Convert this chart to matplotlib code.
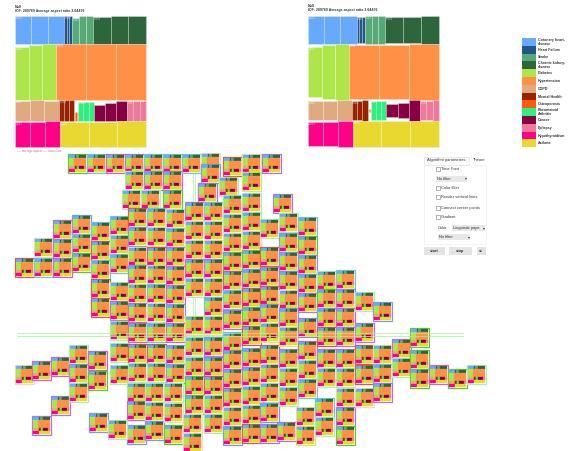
import matplotlib
matplotlib.use("Agg")
import matplotlib.pyplot as plt
from matplotlib.patches import Rectangle
from matplotlib.collections import PolyCollection

plt.rcParams['font.family'] = ['Liberation Sans', 'DejaVu Sans']

diseases = ["Coronary heart-\ndisease", "Heart Failure", "Stroke", "Chronic kidney-\ndisease", "Diabetes",
            "Hypertension", "COPD", "Mental Health", "Osteoporosis", "Rheumatoid\nArthritis", "Cancer",
            "Epilepsy", "Hypothyroidism", "Asthma"]
colors = ["#66aaff", "#225588", "#55aa77", "#2d663c", "#aee64a", "#ff9045", "#e0aa80",
          "#992200", "#ff5a10", "#2cf080", "#880044", "#f07898", "#ff0088", "#e8d830"]

row_values = [28, 56, 21, 26]
row_members = [[0, 1, 2, 3], [4, 5], [6, 7, 8, 9, 10, 11], [12, 13]]

left_values = [49, 8, 21, 53, 41, 90, 44, 15, 4, 16, 33, 19, 45, 86]
right_values = [49, 8, 21, 54, 41, 91, 44, 16, 3, 16, 34, 19, 45, 87]
shown_labels = ["0.333", "0.067", "0.167", "0.374", "0.229", "0.501", "0.267", "0.088", "", "0.082", "", "0.082", "0.257", "0.209"]

# share of the row height filled by the three cells of each group
left_fill = [(1, 1, 1), (1, 1, 1), (.93, 1, 1), (.95, 1, 1), (.95, .99, 1), (1, 1, 1), (.97, 1, .97),
             (1, 1, 1), (.45, .45, .45), (.92, .92, .92), (.78, .85, .95), (.95, .95, .95), (.96, .96, 1), (.97, .98, 1)]
right_fill = [(.98, .98, .98), (.9, .92, .94), (.98, 1, 1), (.93, .96, 1), (.88, .98, 1), (.98, .98, 1), (.9, .95, .98),
              (.88, .92, .96), (.1, .1, .1), (.95, .95, .95), (.6, .75, .98), (.92, .92, 1), (.9, .94, 1), (.97, 1, 1)]

tile_cols = [
    (15, [258], "r"), (34, [238, 258], "tc"), (53, [220, 239, 258], "kpk"), (72, [215, 234, 253], "bcg"),
    (91, [222, 241, 260, 279, 298], "crcrr"), (110, [216, 235, 254, 282, 301, 321, 343, 365], "clclklll"),
    (68, [154], "g"), (87, [154], "c"), (106, [154], "k"), (125, [154, 171], "pl"), (144, [154, 171], "cb"),
    (163, [154, 171], "ck"), (182, [154], "c"), (201, [153, 164], "tb"), (198, [183], "p"), (223, [157], "r"),
    (219, [177], "l"), (122, [190], "l"), (141, [190], "l"), (163, [190], "g"),
    (128, [208, 227, 247, 265, 284, 303, 323, 344, 363], "rbtbykkrl"), (127, [383, 401, 425], "lkb"),
    (147, [208, 227, 247, 265, 284, 303, 323, 344, 363], "ctrtctcrl"), (145, [383, 402, 421], "llb"),
    (166, [209, 228, 247, 266, 285, 304, 323, 345, 364], "lckkkbkbb"), (164, [383, 403, 425], "ltg"),
    (185, [202, 221, 240, 259, 278, 316, 337, 357, 376, 395], "pttklyllgg"), (183, [414, 433], "tt"),
    (204, [202, 221, 240, 259, 278, 297, 316, 337, 357, 376, 395, 414], "cttptcybprll"),
    (223, [195, 214, 233, 252, 271, 290, 310, 332, 350, 369, 388, 407, 426], "lltgrckckkrtb"),
    (242, [154, 172, 193, 212, 231, 250, 269, 288, 307, 326, 348, 367, 386, 405, 424], "tylltgbrgrbkltr"),
    (262, [154], "p"), (273, [194], "p"), (260, [219, 247, 267, 286, 304, 323, 345, 364, 383, 403, 424], "lrkrbyrtlbp"),
    (279, [213, 233, 252, 271, 290, 308, 327, 349, 368, 387], "lbbptbypll"), (277, [422], "p"),
    (298, [217, 236, 255, 274, 293, 318, 341, 360, 379], "cgbbppklc"), (296, [407, 426], "ty"),
    (317, [271, 289, 308, 327, 349, 368], "lgbrpl"), (315, [398, 417], "cl"),
    (336, [270, 289, 308, 327, 349, 368, 388, 407, 426], "cpkppltpg"),
    (355, [292, 323, 345, 365, 388], "lprrt"), (373, [302, 345, 364, 383], "btcp"),
    (392, [339, 358], "kl"), (410, [328, 350, 369], "ggg"), (429, [365], "k"), (448, [369], "g"), (467, [365], "l"),
    (15, [365], "t"), (32, [361, 416], "kp"), (51, [357, 396], "kp"), (69, [345, 364, 383], "lbl"),
    (88, [351, 371], "kg"), (89, [413], "b"), (108, [420], "l"),
]
border_colors = {"g": "#55cc33", "c": "#66ccdd", "p": "#aa77dd", "b": "#7799ee", "r": "#dd5544",
                 "k": "#cc66bb", "l": "#aaeebb", "t": "#eeddbb", "y": "#ccee66"}

fig = plt.figure(figsize=(5.69, 4.51), dpi=100)
ax = fig.add_axes([0, 0, 1, 1])
ax.set_xlim(0, 569)
ax.set_ylim(451, 0)
ax.axis("off")


def treemap_polys(x0, y0, size, values, fills=None, anchor=1.0):
    """Lay out rows of groups, each split in three cells; anchor 1 sits cells on the row base, 0.5 centres them."""
    polys, cols = [], []
    total_h = sum(row_values)
    y = y0
    for rv, members in zip(row_values, row_members):
        h = size * rv / total_h
        x = x0
        total_w = sum(values[m] for m in members)
        for m in members:
            w = size * values[m] / total_w
            for k in range(3):
                f = fills[m][k] if fills else 1
                cx = x + w * k / 3
                top = y + h * (1 - f) * anchor
                bot = top + h * f
                polys.append([(cx, top), (cx + w / 3, top), (cx + w / 3, bot), (cx, bot)])
                cols.append(colors[m])
            x += w
        y += h
    return polys, cols


# large treemaps
for x0, values, fills, anchor, tx, ty in [(15, left_values, left_fill, 1.0, 15, 7),
                                          (308, right_values, right_fill, 0.5, 308, 6)]:
    polys, cols = treemap_polys(x0, 16, 131, values, fills, anchor)
    ax.add_collection(PolyCollection(polys, facecolors=cols, edgecolors=(1, 1, 1, 0.35), linewidths=0.5, zorder=2))
    ax.text(tx, ty, "Null", fontsize=2.5, weight="bold", va="center", color="#333333")
    ax.text(tx, ty + 4, "IOF: 289769 Average aspect ratio 2.04476", fontsize=2.5, weight="bold", va="center", color="#333333")
    for i, lab in enumerate(shown_labels):
        if lab:
            ax.text(polys[i * 3][0][0] + 0.5, polys[i * 3][0][1] + 1.8, lab, fontsize=2.0, color="#ffffffcc", va="center", zorder=3)

ax.text(17, 150.7, "---- average aspect ---- mean line", fontsize=2.2, color="#888888", va="center")

# legend
legend_top, legend_step = 38, 7.8
for i, (name, col) in enumerate(zip(diseases, colors)):
    y = legend_top + i * legend_step
    ax.add_patch(Rectangle((522, y), 14, legend_step, facecolor=col, edgecolor="none"))
    ax.text(538, y + legend_step / 2, name, fontsize=2.6, weight="bold", va="center", linespacing=1.05, color="#333333")

# mini treemap grid
mini_base, mini_cols = treemap_polys(0, 0, 17.8, left_values)
for x, ys, codes in tile_cols:
    for y, c in zip(ys, codes):
        ax.add_patch(Rectangle((x + 0.3, y + 0.3), 18.4, 18.4, facecolor="white", edgecolor=border_colors[c],
                               linewidth=0.9, zorder=4))
        ax.add_collection(PolyCollection([[(px + x + 0.6, py + y + 0.6) for px, py in p] for p in mini_base],
                                         facecolors=mini_cols, edgecolors="face", linewidths=0.2, zorder=4))

# guide lines
for y in (332.5, 335.5):
    ax.plot([17, 463], [y, y], color="#a6f29a", lw=0.6, zorder=6, alpha=0.9)
for x in (192.8, 195):
    ax.plot([x, x], [170, 451], color="#a6f29a", lw=0.6, zorder=3.5, alpha=0.8)

# control panel
ui = dict(fontsize=2.9, va="center", color="#333333", zorder=8)
ax.add_patch(Rectangle((424, 164.5), 62, 79, facecolor="white", edgecolor="#eeeeee", lw=0.5))
ax.add_patch(Rectangle((424, 156.5), 45, 8, facecolor="#fafafa", edgecolor="#dddddd", lw=0.4))
ax.text(427, 160.3, "Algorithm parameters", **ui)
ax.text(473, 160.3, "Theore", **ui)
for y, label in [(169, "Time Font"), (188.3, "Color filter"), (196.7, "Render vertical lines"),
                 (208, "Connect center points"), (216.5, "Gradient")]:
    ax.add_patch(Rectangle((435.8, y - 2), 4, 4, facecolor="white", edgecolor="#777777", lw=0.4))
    ax.text(441, y, label, **ui)
for x, y, w, label in [(436, 175.5, 31, "No filter"), (452, 225, 33.5, "Linguistic pape"), (438, 234, 32, "No filter")]:
    ax.add_patch(Rectangle((x, y), w, 6, facecolor="#e8e8e8", edgecolor="none"))
    ax.text(x + 1, y + 3, label, **ui)
    ax.text(x + w - 0.5, y + 3, "\u25be", fontsize=2.8, ha="right", va="center", color="#333333", zorder=8,
            family="DejaVu Sans")
ax.text(438, 228, "Color", **ui)
for x, w, label in [(424, 21, "start"), (449, 23, "stop"), (477, 9, "st")]:
    ax.add_patch(Rectangle((x, 247), w, 8, facecolor="#e4e4e4", edgecolor="none"))
    ax.text(x + (w / 2 if w > 10 else 4), 251, label, ha="center", fontsize=2.9, va="center",
            weight="bold", color="#333333", zorder=8)

fig.savefig("out.png", dpi=100)
